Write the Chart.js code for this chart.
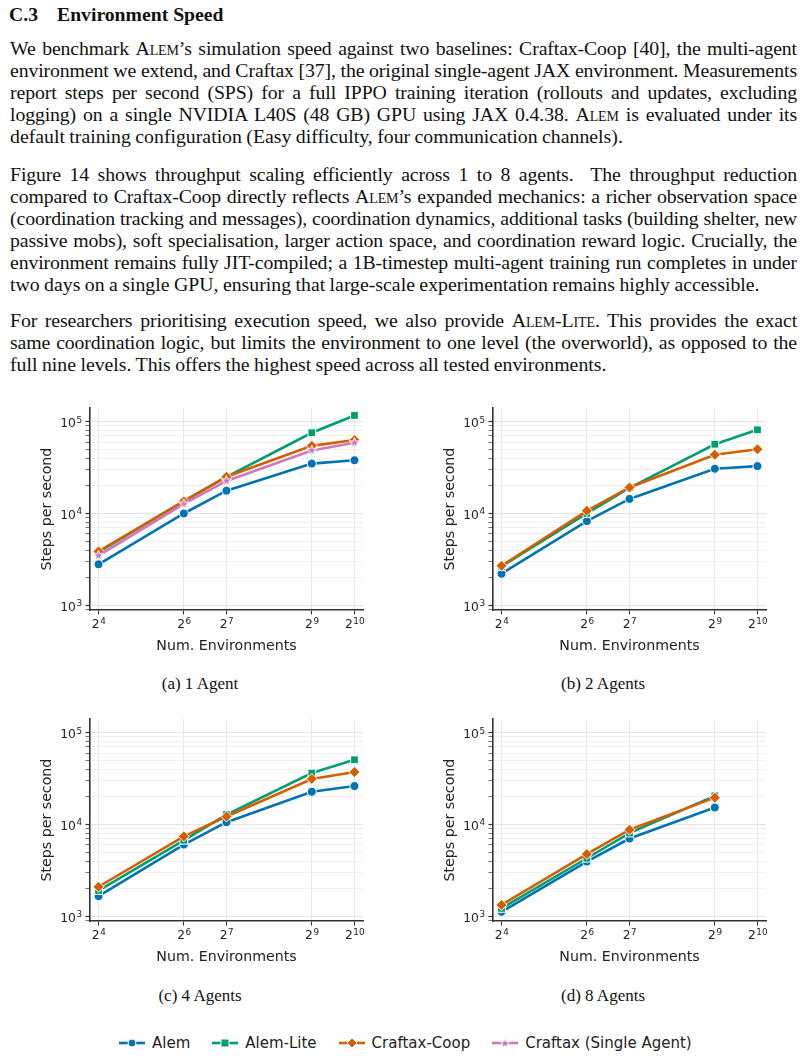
<!DOCTYPE html>
<html>
<head>
<meta charset="utf-8">
<script src="https://cdn.jsdelivr.net/npm/chart.js@4.4.1/dist/chart.umd.min.js"></script>
<style>
  html, body { margin: 0; padding: 0; background: #fff; }
  body { width: 806px; height: 1058px; position: relative; overflow: hidden; color: #111; }
  .serif { font-family: "Liberation Serif", "Times New Roman", serif; }
  #heading { position: absolute; left: 9px; top: 3px; font-size: 19.7px; font-weight: bold; line-height: 22px; }
  #heading .num { display: inline-block; width: 48px; }
  .para { position: absolute; left: 10px; width: 787px; font-size: 19.8px; line-height: 22px; }
  .para div { text-align: justify; text-align-last: justify; white-space: nowrap; word-spacing: -3.5px; letter-spacing: -0.12px; }
  .para div.last { text-align-last: left; word-spacing: -0.5px; letter-spacing: 0; }
  .sc { font-variant: small-caps; }
  .panel { position: absolute; }
  .caption { position: absolute; width: 200px; text-align: center; font-size: 17px; line-height: 20px; }
  #legend { position: absolute; left: 119px; top: 1034px; display: flex; align-items: center;
            font-family: "DejaVu Sans", sans-serif; font-size: 15px; color: #222; }
  #legend .item { display: flex; align-items: center; margin-right: 22px; }
  #legend svg { margin-right: 7px; }
</style>
</head>
<body>
<div id="heading" class="serif"><span class="num">C.3</span>Environment Speed</div>

<div class="para serif" style="top:37px">
  <div>We benchmark <span class="sc">Alem</span>’s simulation speed against two baselines: Craftax-Coop [40], the multi-agent</div>
  <div>environment we extend, and Craftax [37], the original single-agent JAX environment. Measurements</div>
  <div>report steps per second (SPS) for a full IPPO training iteration (rollouts and updates, excluding</div>
  <div>logging) on a single NVIDIA L40S (48 GB) GPU using JAX 0.4.38. <span class="sc">Alem</span> is evaluated under its</div>
  <div class="last">default training configuration (Easy difficulty, four communication channels).</div>
</div>

<div class="para serif" style="top:163px">
  <div>Figure 14 shows throughput scaling efficiently across 1 to 8 agents.&nbsp; The throughput reduction</div>
  <div>compared to Craftax-Coop directly reflects <span class="sc">Alem</span>’s expanded mechanics: a richer observation space</div>
  <div>(coordination tracking and messages), coordination dynamics, additional tasks (building shelter, new</div>
  <div>passive mobs), soft specialisation, larger action space, and coordination reward logic. Crucially, the</div>
  <div>environment remains fully JIT-compiled; a 1B-timestep multi-agent training run completes in under</div>
  <div class="last">two days on a single GPU, ensuring that large-scale experimentation remains highly accessible.</div>
</div>

<div class="para serif" style="top:309px">
  <div>For researchers prioritising execution speed, we also provide <span class="sc">Alem-Lite</span>. This provides the exact</div>
  <div>same coordination logic, but limits the environment to one level (the overworld), as opposed to the</div>
  <div class="last">full nine levels. This offers the highest speed across all tested environments.</div>
</div>

<canvas id="chart-a" class="panel" width="340" height="260" style="left:30px; top:398px"></canvas>
<canvas id="chart-b" class="panel" width="340" height="260" style="left:433px; top:398px"></canvas>
<canvas id="chart-c" class="panel" width="340" height="260" style="left:30px; top:709px"></canvas>
<canvas id="chart-d" class="panel" width="340" height="260" style="left:433px; top:709px"></canvas>

<div class="caption serif" style="left:100px; top:674px">(a) 1 Agent</div>
<div class="caption serif" style="left:503px; top:674px">(b) 2 Agents</div>
<div class="caption serif" style="left:100px; top:986px">(c) 4 Agents</div>
<div class="caption serif" style="left:503px; top:986px">(d) 8 Agents</div>

<div id="legend"></div>

<script>
// x values (number of environments) and the y decades that get labels
const envCounts = [16, 64, 128, 512, 1024];
const yDecades = [1000, 10000, 100000];

// (a) 1 agent
const alem1     = [2800, 10000, 17700, 34900, 38000];
const alemLite1 = [3800, 13600, 25000, 75700, 116700];
const coop1     = [3870, 13600, 25100, 54500, 63000];
const craftax1  = [3480, 12700, 22600, 48600, 58800];

// (b) 2 agents
const alem2     = [2210, 8260, 14400, 30700, 32800];
const alemLite2 = [2650, 10000, 19000, 56700, 81500];
const coop2     = [2700, 10700, 19200, 43600, 50000];

// (c) 4 agents
const alem4     = [1660, 6050, 10600, 22700, 26200];
const alemLite4 = [1910, 6730, 12800, 36300, 50600];
const coop4     = [2100, 7430, 12200, 31300, 37200];

// (d) 8 agents (no run at 2^10)
const alem8     = [1120, 3950, 7030, 15300, null];
const alemLite8 = [1220, 4290, 8070, 20500, null];
const coop8     = [1330, 4770, 8770, 19600, null];

const seriesNames = ['Alem', 'Alem-Lite', 'Craftax-Coop', 'Craftax (Single Agent)'];
const seriesColors = ['#0173b2', '#029e73', '#d55e00', '#cc78bc'];

// filled star marker, matplotlib style
function makeStar(size, color) {
    const c = document.createElement('canvas');
    c.width = size; c.height = size;
    const g = c.getContext('2d');
    const cx = size / 2, cy = size / 2;
    const outer = size / 2 - 1, inner = outer * 0.42;
    g.beginPath();
    for (let i = 0; i < 10; i++) {
        const r = i % 2 === 0 ? outer : inner;
        const a = -Math.PI / 2 + i * Math.PI / 5;
        const px = cx + r * Math.cos(a), py = cy + r * Math.sin(a);
        if (i === 0) g.moveTo(px, py); else g.lineTo(px, py);
    }
    g.closePath();
    g.fillStyle = color;
    g.fill();
    g.lineWidth = 1;
    g.strokeStyle = '#fff';
    g.stroke();
    return c;
}
const starImg = makeStar(13, seriesColors[3]);

const pointStyles = ['circle', 'rect', 'rectRot', starImg];
const pointRadii = [4.5, 5.5, 5.5, 6];

function isPow10(v) {
    const l = Math.log10(v);
    return Math.abs(l - Math.round(l)) < 1e-9;
}

function makeDatasets(seriesList) {
    return seriesList.map((vals, i) => {
        if (!vals) return null;
        return {
            label: seriesNames[i],
            data: envCounts.map((x, j) => ({ x: x, y: vals[j] })).filter(p => p.y !== null),
            borderColor: seriesColors[i],
            backgroundColor: seriesColors[i],
            borderWidth: 2.6,
            pointStyle: pointStyles[i],
            pointRadius: pointRadii[i],
            pointBorderColor: '#fff',
            pointBorderWidth: 1,
            order: 4 - i,   // later series drawn on top
            tension: 0
        };
    }).filter(d => d);
}

// tick labels as base + raised exponent (2^n, 10^n), placed with the scales
const BASE_FONT = '12.3px "DejaVu Sans"';
const EXP_FONT = '8.8px "DejaVu Sans"';
function drawPower(ctx, base, exp, x, baseline, align) {
    ctx.font = BASE_FONT;
    const wb = ctx.measureText(base).width;
    ctx.font = EXP_FONT;
    const we = ctx.measureText(exp).width;
    let left = align === 'center' ? x - (wb + we) / 2 : x - wb - we;
    ctx.textAlign = 'left';
    ctx.font = BASE_FONT;
    ctx.fillText(base, left, baseline);
    ctx.font = EXP_FONT;
    ctx.fillText(exp, left + wb + 0.5, baseline - 4.2);
}

const powerLabels = {
    id: 'powerLabels',
    afterDraw(chart) {
        const ctx = chart.ctx;
        const xs = chart.scales.x, ys = chart.scales.y;
        ctx.save();
        ctx.fillStyle = '#222';
        ctx.textBaseline = 'alphabetic';
        envCounts.forEach(v => {
            drawPower(ctx, '2', String(Math.round(Math.log2(v))), xs.getPixelForValue(v), xs.top + 18, 'center');
        });
        yDecades.forEach(v => {
            drawPower(ctx, '10', String(Math.round(Math.log10(v))), ys.right - 8.5, ys.getPixelForValue(v) + 5.2, 'right');
        });
        ctx.restore();
    }
};

function createPanel(id, seriesList) {
    const ctx = document.getElementById(id).getContext('2d');
    const titleFont = { family: 'DejaVu Sans', size: 14.2 };
    new Chart(ctx, {
        type: 'line',
        data: { datasets: makeDatasets(seriesList) },
        plugins: [powerLabels],
        options: {
            responsive: false,
            animation: false,
            events: [],
            layout: { padding: { top: 7, right: 7, left: 0, bottom: 0 } },
            plugins: { legend: { display: false }, tooltip: { enabled: false } },
            scales: {
                x: {
                    type: 'logarithmic',
                    bounds: 'data',
                    min: Math.pow(2, 3.8),
                    max: Math.pow(2, 10.2),
                    afterBuildTicks: scale => {
                        scale.ticks = envCounts.map(v => ({ value: v }));
                    },
                    afterFit: scale => { scale.height = 48; },
                    ticks: { autoSkip: false, maxRotation: 0, callback: () => '' },
                    grid: { color: '#e6e6e6', lineWidth: 1, tickLength: 4.5, tickColor: '#333', tickWidth: 1 },
                    border: { display: true, color: '#333', width: 1.6 },
                    title: { display: true, text: 'Num. Environments', color: '#222', font: titleFont,
                             padding: { top: 0, bottom: 3 } }
                },
                y: {
                    type: 'logarithmic',
                    bounds: 'data',
                    min: 890,
                    max: 140000,
                    afterBuildTicks: scale => {
                        const t = [];
                        for (let k = 2; k <= 5; k++) {
                            for (let m = 1; m <= 9; m++) {
                                const v = m * Math.pow(10, k);
                                if (v >= scale.min && v <= scale.max) t.push({ value: v });
                            }
                        }
                        scale.ticks = t;
                    },
                    afterFit: scale => { scale.width = 60; },
                    ticks: { autoSkip: false, callback: () => '' },
                    grid: {
                        color: c => (c.tick && isPow10(c.tick.value)) ? '#e3e3e3' : '#f1f1f1',
                        lineWidth: 1,
                        tickLength: 4.5,
                        tickColor: '#333',
                        tickWidth: c => (c.tick && isPow10(c.tick.value)) ? 1.2 : 0.7
                    },
                    border: { display: true, color: '#333', width: 1.6 },
                    title: { display: true, text: 'Steps per second', color: '#222', font: titleFont,
                             padding: { top: 9, bottom: 0 } }
                }
            }
        }
    });
}

createPanel('chart-a', [alem1, alemLite1, coop1, craftax1]);
createPanel('chart-b', [alem2, alemLite2, coop2, null]);
createPanel('chart-c', [alem4, alemLite4, coop4, null]);
createPanel('chart-d', [alem8, alemLite8, coop8, null]);

// shared legend under the four panels
function legendMarker(i) {
    const col = seriesColors[i];
    let shape = '';
    if (i === 0) shape = `<circle cx="13" cy="7" r="4" fill="${col}" stroke="#fff" stroke-width="1"/>`;
    if (i === 1) shape = `<rect x="9" y="3" width="8" height="8" fill="${col}" stroke="#fff" stroke-width="1"/>`;
    if (i === 2) shape = `<polygon points="13,2 18,7 13,12 8,7" fill="${col}" stroke="#fff" stroke-width="1"/>`;
    if (i === 3) {
        const pts = [];
        for (let k = 0; k < 10; k++) {
            const r = k % 2 === 0 ? 5 : 2.1;
            const a = -Math.PI / 2 + k * Math.PI / 5;
            pts.push((13 + r * Math.cos(a)).toFixed(2) + ',' + (7.5 + r * Math.sin(a)).toFixed(2));
        }
        shape = `<polygon points="${pts.join(' ')}" fill="${col}" stroke="#fff" stroke-width="0.8"/>`;
    }
    return `<svg width="26" height="14" viewBox="0 0 26 14">
        <line x1="0" y1="7" x2="26" y2="7" stroke="${col}" stroke-width="2.6"/>${shape}</svg>`;
}

const legend = document.getElementById('legend');
seriesNames.forEach((name, i) => {
    const item = document.createElement('div');
    item.className = 'item';
    item.innerHTML = legendMarker(i) + '<span>' + name + '</span>';
    legend.appendChild(item);
});
</script>
</body>
</html>
